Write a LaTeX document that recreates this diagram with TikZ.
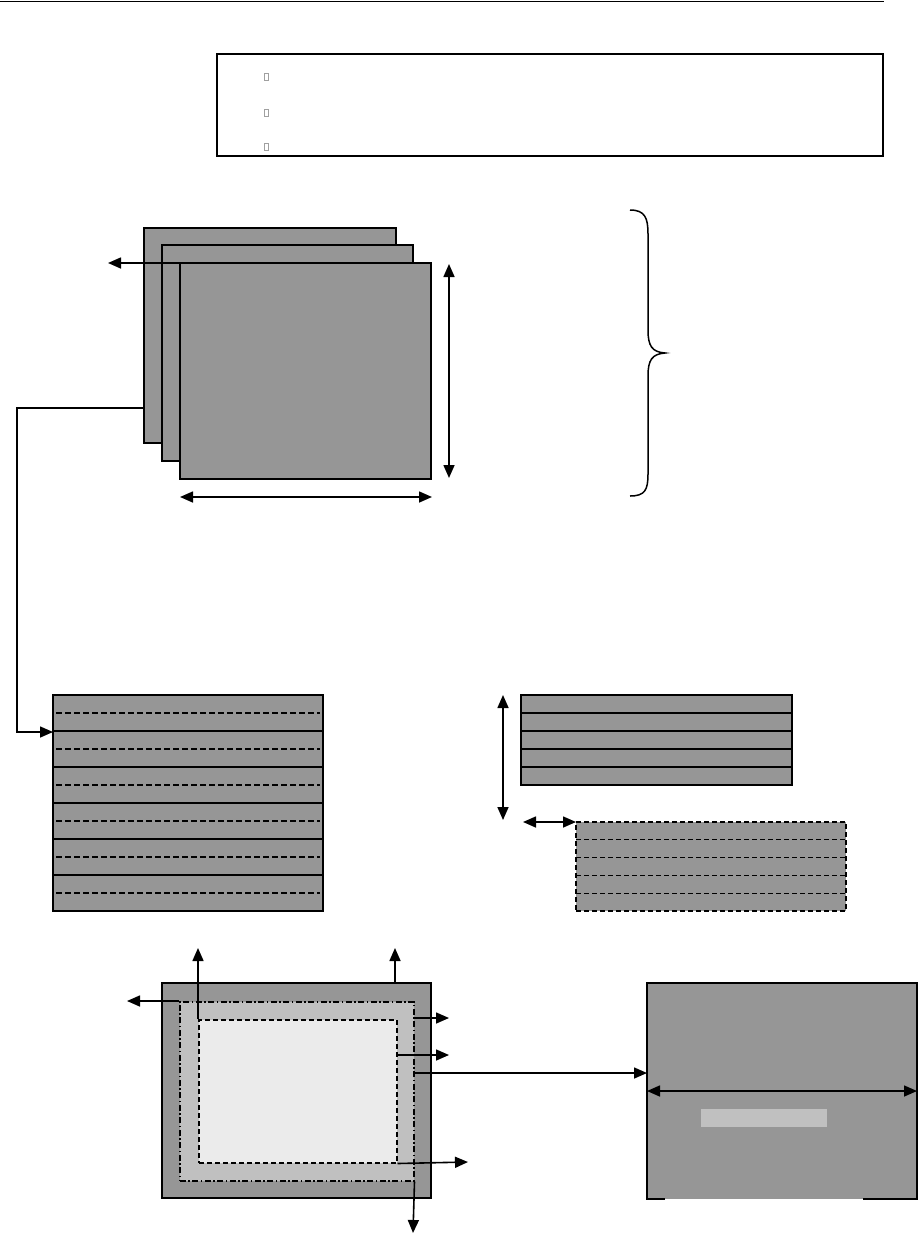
\documentclass[tikz,border=0pt]{standalone}
\usetikzlibrary{arrows.meta,calc}
\definecolor{panel}{RGB}{150,150,150}
\definecolor{midg}{RGB}{192,192,192}
\definecolor{lightg}{RGB}{235,235,235}
\definecolor{bulletc}{RGB}{160,160,160}
\begin{document}
\begin{tikzpicture}[x=1pt,y=-1pt,
  box/.style={draw,line width=1.6pt,fill=panel,inner sep=0pt,outer sep=0pt,anchor=north west},
  tip/.tip={Triangle[length=13pt,width=11pt]},
  arr/.style={line width=1.6pt,-tip},
  darr/.style={line width=1.6pt,tip-tip},
  thinsolid/.style={line width=1.1pt},
  thindash/.style={line width=1.1pt,dash pattern=on 6pt off 3pt},
  bulletbox/.style={draw=bulletc,line width=0.6pt,inner sep=0pt,minimum width=4pt,minimum height=7pt,anchor=north west}
]
\useasboundingbox (0,0) rectangle (918,1253);

% top rule
\draw[line width=0.9pt] (0,1) -- (884,1);

% legend box
\node[draw,line width=1.5pt,inner sep=0pt,anchor=north west,minimum width=666pt,minimum height=102pt] (legend) at (216,53) {};
\node[bulletbox] (b1) at (264,73) {};
\node[bulletbox] (b2) at (264,109) {};
\node[bulletbox] (b3) at (264,143) {};

% stacked squares
\node[box,minimum width=252pt,minimum height=215pt] (back) at (144,228) {};
\node[box,minimum width=251pt,minimum height=216pt] (middle) at (162,245) {};
\node[box,minimum width=251pt,minimum height=216pt] (front) at (180,263) {};

\coordinate (leftend) at (108,263);
\draw[arr] (front.north west) -- (leftend);

\coordinate (vtop) at (449,264);
\coordinate (vbot) at (449,478);
\draw[darr] (vtop) -- (vbot);
\coordinate (hl) at (180,497);
\coordinate (hr) at (432,497);
\draw[darr] (hl) -- (hr);

% brace
\draw[line width=1.5pt] (630,210) .. controls (645,210) and (648,218) .. (648,234)
  -- (648,330) .. controls (648,346) and (652,352) .. (665,353)
  .. controls (652,354) and (648,360) .. (648,376)
  -- (648,474) .. controls (648,490) and (645,496) .. (630,496);

% left strip block
\node[box,minimum width=270pt,minimum height=216pt] (strip) at (53,695) {};
\foreach \i in {1,...,11}{
  \pgfmathtruncatemacro\r{mod(\i,2)}
  \ifnum\r=0
    \draw[thinsolid] ($(strip.north west)+(0,18*\i)$) -- ($(strip.north east)+(0,18*\i)$);
  \else
    \draw[thindash] ($(strip.north west)+(3,18*\i)$) -- ($(strip.north east)+(-3,18*\i)$);
  \fi
}

% connector from stack to strip
\coordinate (s1) at ($(back.north west)+(0,180)$);
\coordinate (bend) at (17,408);
\coordinate (s2) at ($(strip.north west)+(0,37)$);
\draw[arr] (s1) -- (bend) |- (s2);

% right top strip block
\node[box,minimum width=271pt,minimum height=90pt] (rstrip) at (521,695) {};
\foreach \i in {1,...,4}{
  \draw[thinsolid] ($(rstrip.north west)+(0,18*\i)$) -- ($(rstrip.north east)+(0,18*\i)$);
}
\coordinate (rvt) at (503,695);
\coordinate (rvb) at (503,820);
\draw[darr] (rvt) -- (rvb);

% right bottom dashed block
\node[box,line width=1.3pt,dash pattern=on 5pt off 3pt,minimum width=270pt,minimum height=89pt] (dstrip) at (576,822) {};
\foreach \i in {1,...,4}{
  \draw[thindash,dash pattern=on 5pt off 3pt] ($(dstrip.north west)+(0,17.8*\i)$) -- ($(dstrip.north east)+(0,17.8*\i)$);
}
\coordinate (rhl) at (523,822);
\draw[darr] (rhl) -- (dstrip.north west);

% bottom left nested rectangles
\node[box,minimum width=269pt,minimum height=215pt] (outer) at (162,983) {};
\node[draw,line width=1.5pt,fill=midg,inner sep=0pt,anchor=north west,
  dash pattern=on 6pt off 2.5pt on 1.5pt off 2.5pt,minimum width=234pt,minimum height=179pt] (midr) at (179,1001) {};
\node[draw,line width=1.5pt,fill=lightg,inner sep=0pt,anchor=north west,
  dash pattern=on 5pt off 3pt,minimum width=198pt,minimum height=143pt] (inner) at (198,1019) {};

\coordinate (u1) at (198,948);
\draw[arr] (inner.north west) -- (u1);
\coordinate (o2) at (395,983);
\coordinate (u2) at (395,948);
\draw[arr] (o2) -- (u2);
\coordinate (l1) at (127,1001);
\draw[arr] (midr.north west) -- (l1);
\coordinate (m1) at (413,1018);
\coordinate (r1) at (449,1018);
\draw[arr] (m1) -- (r1);
\coordinate (i1) at (396,1055);
\coordinate (r2) at (449,1055);
\draw[arr] (i1) -- (r2);
\coordinate (r3) at (468,1162);
\draw[arr] (inner.south east) -- (r3);
\coordinate (d1) at (413,1233);
\draw[arr] (midr.south east) -- (d1);

% right screen box
\node[fill=panel,inner sep=0pt,outer sep=0pt,anchor=north west,minimum width=270pt,minimum height=216pt] (rbox) at (647,983) {};
\draw[line width=1.6pt] ($(rbox.south west)+(18,0)$) -- (rbox.south west) -- (rbox.north west) -- (rbox.north east) -- (rbox.south east) -- ++(-54,0);
\node[fill=midg,inner sep=0pt,anchor=north west,minimum width=126pt,minimum height=18pt] (bar) at (701,1109) {};
\draw[darr] (rbox.west) -- (rbox.east);

\coordinate (m2) at (413,1073);
\draw[arr] (m2) -- (m2 -| rbox.west);
\end{tikzpicture}
\end{document}
